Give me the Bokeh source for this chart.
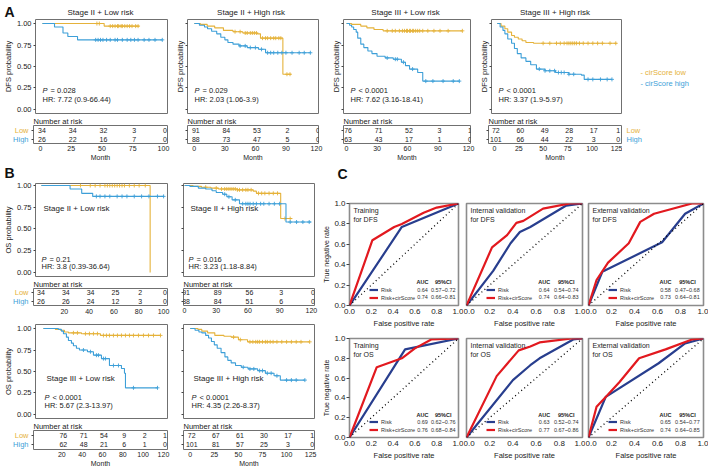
from bokeh.plotting import figure
from bokeh.models import (ColumnDataSource, Range1d, FixedTicker, Label, Legend,
                          LegendItem, NumeralTickFormatter, Slope, CustomJSTickFormatter)
from bokeh.layouts import row, column
from bokeh.core.properties import value
from bokeh.embed import file_html
from bokeh.resources import INLINE

FONT = "Liberation Sans"
LOW_C = "#E5B23A"
HIGH_C = "#3D9FD8"
RISK_C = "#283E8E"
COMB_C = "#E2191F"
FRAME_C = "#707070"

# ---------------- Panel A : DFS Kaplan-Meier ----------------
A_titles = ["Stage II + Low risk", "Stage II + High risk", "Stage III + Low risk", "Stage III + High risk"]
A_pvals = ["= 0.028", "= 0.029", "< 0.0001", "< 0.0001"]
A_hrs = ["HR: 7.72 (0.9-66.44)", "HR: 2.03 (1.06-3.9)", "HR: 7.62 (3.16-18.41)", "HR: 3.37 (1.9-5.97)"]
group_names = ["Low", "High"]
legend_names = ["- cirScore low", "- cirScore high"]

A1_low_time = [0, 51]
A1_low_surv = [1.0, 0.97]
A1_low_end = 80
A1_low_cens = [45, 47, 56, 58, 60, 62, 63, 65, 66, 68, 70, 72, 74, 77, 79]
A1_high_time = [0, 10, 17, 21, 29]
A1_high_surv = [1.0, 0.96, 0.89, 0.85, 0.81]
A1_high_end = 99
A1_high_cens = [44, 46, 48, 50, 53, 56, 60, 62, 66, 70, 73, 76, 79, 84, 88, 93, 99]
A1_risk_time = [0, 25, 50, 75, 100]
A1_risk_low = [34, 34, 32, 3, 0]
A1_risk_high = [26, 22, 16, 7, 0]

A2_low_time = [0, 6, 12.7, 20, 28.6, 38, 47.6, 62, 65, 87]
A2_low_surv = [1.0, 0.99, 0.97, 0.95, 0.92, 0.905, 0.89, 0.88, 0.83, 0.41]
A2_low_end = 95
A2_low_cens = [40, 45, 50, 52, 55, 57, 59, 61, 67, 70, 72, 75, 78, 80, 83, 85, 91, 94]
A2_high_time = [0, 5, 10, 13, 17, 22, 26, 30, 33, 38, 44, 52, 63, 70]
A2_high_surv = [1.0, 0.98, 0.96, 0.94, 0.91, 0.88, 0.84, 0.81, 0.78, 0.76, 0.74, 0.72, 0.70, 0.66]
A2_high_end = 114
A2_high_cens = [45, 50, 55, 60, 66, 72, 75, 78, 82, 86, 90, 96, 103, 108, 114]
A2_risk_time = [0, 30, 60, 90, 120]
A2_risk_low = [91, 84, 53, 2, 0]
A2_risk_high = [88, 73, 47, 5, 0]

A3_low_time = [0, 5, 14, 20, 27, 36]
A3_low_surv = [1.0, 0.99, 0.97, 0.95, 0.93, 0.915]
A3_low_end = 114
A3_low_cens = [40, 45, 48, 52, 55, 57, 59, 60, 62, 63, 65, 66, 68, 70, 72, 75, 80, 86, 92, 100, 114]
A3_high_time = [0, 3, 5, 7, 9.5, 11, 14, 17, 21, 25, 30, 38, 46, 54, 58, 62, 70, 75]
A3_high_surv = [1.0, 0.98, 0.96, 0.93, 0.90, 0.83, 0.76, 0.72, 0.68, 0.65, 0.62, 0.60, 0.585, 0.55, 0.51, 0.47, 0.43, 0.33]
A3_high_end = 111
A3_high_cens = [40, 48, 50, 56, 65, 78, 85, 95, 105, 111]
A3_risk_time = [0, 30, 60, 90, 120]
A3_risk_low = [76, 71, 52, 3, 1]
A3_risk_high = [63, 43, 17, 1, 0]

A4_low_time = [0, 4, 8, 11, 15, 18, 22, 26, 30, 38]
A4_low_surv = [1.0, 0.97, 0.94, 0.90, 0.86, 0.84, 0.82, 0.80, 0.78, 0.77]
A4_low_end = 125
A4_low_cens = [48, 55, 62, 66, 70, 73, 75, 77, 79, 81, 83, 86, 90, 95, 100, 105, 110, 118, 124]
A4_high_time = [0, 3, 6, 8, 11, 15, 18, 21, 25, 30, 35, 41, 50, 61, 75, 88, 91]
A4_high_surv = [1.0, 0.96, 0.92, 0.88, 0.82, 0.77, 0.71, 0.65, 0.60, 0.56, 0.52, 0.47, 0.45, 0.43, 0.41, 0.40, 0.35]
A4_high_end = 120
A4_high_cens = [44, 50, 55, 60, 64, 67, 70, 75, 80, 95, 100, 108, 115, 120]
A4_risk_time = [0, 25, 50, 75, 100, 125]
A4_risk_low = [72, 60, 49, 28, 17, 1]
A4_risk_high = [101, 66, 44, 22, 3, 0]

# ---------------- Panel B : OS Kaplan-Meier ----------------
B_titles = ["Stage II + Low risk", "Stage II + High risk", "Stage III + Low risk", "Stage III + High risk"]
B_pvals = ["= 0.21", "= 0.016", "< 0.0001", "< 0.0001"]
B_hrs = ["HR: 3.8 (0.39-36.64)", "HR: 3.23 (1.18-8.84)", "HR: 5.67 (2.3-13.97)", "HR: 4.35 (2.26-8.37)"]

B1_low_time = [0, 89]
B1_low_surv = [1.0, 0.0]
B1_low_end = 89
B1_low_cens = [32, 40, 44, 48, 52, 54, 56, 58, 60, 62, 64, 66, 68, 72, 76, 80, 85]
B1_high_time = [0, 23.5, 33, 42]
B1_high_surv = [1.0, 0.96, 0.91, 0.875]
B1_high_end = 100
B1_high_cens = [45, 48, 52, 56, 62, 66, 70, 76, 82, 88, 95, 100]
B1_risk_time = [0, 20, 40, 60, 80, 100]
B1_risk_low = [34, 34, 34, 25, 2, 0]
B1_risk_high = [26, 26, 24, 12, 3, 0]

B2_low_time = [0, 8, 16, 25, 32, 50, 65, 68, 91]
B2_low_surv = [1.0, 0.99, 0.98, 0.97, 0.96, 0.95, 0.935, 0.91, 0.62]
B2_low_end = 102
B2_low_cens = [20, 30, 35, 38, 40, 42, 44, 46, 48, 50, 52, 55, 58, 60, 63, 70, 73, 76, 80, 84, 88, 95, 100]
B2_high_time = [0, 5, 13, 20, 26, 30, 36, 40, 45, 52, 96]
B2_high_surv = [1.0, 0.99, 0.97, 0.96, 0.94, 0.92, 0.90, 0.87, 0.835, 0.79, 0.58]
B2_high_end = 120
B2_high_cens = [38, 42, 48, 55, 58, 60, 62, 65, 68, 72, 75, 80, 85, 90, 100, 106, 112, 118]
B2_risk_time = [0, 30, 60, 90, 120]
B2_risk_low = [91, 89, 56, 3, 0]
B2_risk_high = [88, 84, 51, 6, 0]

B3_low_time = [0, 12, 17, 21, 25, 38, 57]
B3_low_surv = [1.0, 0.99, 0.98, 0.96, 0.95, 0.94, 0.92]
B3_low_end = 117
B3_low_cens = [30, 34, 42, 46, 50, 54, 60, 63, 66, 70, 74, 78, 82, 86, 90, 95, 100, 105, 110, 117]
B3_high_time = [0, 15, 18, 20, 23, 25, 28, 30, 33, 36, 44, 50, 58, 66, 78, 81, 82]
B3_high_surv = [1.0, 0.99, 0.97, 0.94, 0.90, 0.86, 0.83, 0.80, 0.77, 0.75, 0.73, 0.69, 0.65, 0.57, 0.535, 0.48, 0.31]
B3_high_end = 114
B3_high_cens = [40, 47, 53, 55, 60, 62, 70, 75, 90, 114]
B3_risk_time = [20, 40, 60, 80, 100, 120]
B3_risk_low = [76, 71, 54, 9, 2, 1]
B3_risk_high = [62, 48, 21, 6, 1, 0]

B4_low_time = [0, 8, 12, 18, 25.5, 35, 42.5, 50, 59.5]
B4_low_surv = [1.0, 0.99, 0.97, 0.95, 0.92, 0.91, 0.90, 0.87, 0.845]
B4_low_end = 124
B4_low_cens = [45, 52, 62, 65, 68, 70, 72, 75, 78, 80, 83, 86, 90, 95, 100, 105, 110, 115, 124]
B4_high_time = [0, 5, 9, 12, 16, 19, 22, 25, 28, 32, 36, 39, 42.5, 47, 53, 60, 70, 78, 87, 93.5]
B4_high_surv = [1.0, 0.98, 0.96, 0.95, 0.92, 0.89, 0.85, 0.81, 0.77, 0.72, 0.67, 0.63, 0.60, 0.57, 0.55, 0.53, 0.51, 0.48, 0.45, 0.40]
B4_high_end = 119
B4_high_cens = [55, 62, 66, 72, 75, 80, 84, 90, 100, 105, 110, 119]
B4_risk_time = [0, 25, 50, 75, 100, 125]
B4_risk_low = [72, 67, 61, 30, 17, 1]
B4_risk_high = [101, 81, 57, 25, 3, 0]

# ---------------- Panel C : ROC ----------------
C_titles = [["Training", "for DFS"], ["Internal validation", "for DFS"], ["External validation", "for DFS"],
            ["Training", "for OS"], ["Internal validation", "for OS"], ["External validation", "for OS"]]
C_auc_risk = ["0.64", "0.64", "0.58", "0.69", "0.63", "0.65"]
C_ci_risk = ["0.57~0.72", "0.54~0.74", "0.47~0.68", "0.62~0.76", "0.52~0.74", "0.54~0.77"]
C_auc_comb = ["0.74", "0.74", "0.73", "0.76", "0.77", "0.74"]
C_ci_comb = ["0.66~0.81", "0.64~0.83", "0.64~0.81", "0.68~0.84", "0.67~0.86", "0.64~0.85"]

C1_risk_fpr = [0, 0.48, 1.0]
C1_risk_tpr = [0, 0.77, 1.0]
C1_comb_fpr = [0, 0.21, 0.41, 0.48, 0.68, 0.80, 1.0]
C1_comb_tpr = [0, 0.64, 0.77, 0.80, 0.91, 0.96, 1.0]
C2_risk_fpr = [0, 0.23, 0.38, 0.46, 0.55, 0.86, 1.0]
C2_risk_tpr = [0, 0.34, 0.61, 0.72, 0.77, 0.98, 1.0]
C2_comb_fpr = [0, 0.22, 0.35, 0.43, 0.49, 0.66, 0.89, 1.0]
C2_comb_tpr = [0, 0.57, 0.69, 0.81, 0.83, 0.95, 1.0, 1.0]
C3_risk_fpr = [0, 0.12, 0.64, 0.84, 1.0]
C3_risk_tpr = [0, 0.33, 0.62, 0.90, 1.0]
C3_comb_fpr = [0, 0.07, 0.17, 0.35, 0.45, 0.57, 0.90, 1.0]
C3_comb_tpr = [0, 0.25, 0.42, 0.61, 0.82, 0.90, 1.0, 1.0]
C4_risk_fpr = [0, 0.51, 1.0]
C4_risk_tpr = [0, 0.89, 1.0]
C4_comb_fpr = [0, 0.25, 0.48, 0.60, 0.75, 1.0]
C4_comb_tpr = [0, 0.71, 0.80, 0.90, 0.99, 1.0]
C5_risk_fpr = [0, 0.40, 0.55, 0.63, 0.92, 1.0]
C5_risk_tpr = [0, 0.58, 0.73, 0.80, 0.99, 1.0]
C5_comb_fpr = [0, 0.26, 0.45, 0.55, 0.63, 0.91, 1.0]
C5_comb_tpr = [0, 0.62, 0.88, 0.92, 0.96, 1.0, 1.0]
C6_risk_fpr = [0, 0.15, 0.61, 0.84, 1.0]
C6_risk_tpr = [0, 0.41, 0.75, 0.95, 1.0]
C6_comb_fpr = [0, 0.07, 0.15, 0.27, 0.44, 0.67, 0.90, 1.0]
C6_comb_tpr = [0, 0.31, 0.41, 0.56, 0.80, 0.89, 0.99, 1.0]

BLANK = CustomJSTickFormatter(code="return ''")


# ---------------- helpers ----------------
def add_label(p, x, y, text, dx=0, dy=0, size="7.5px", color="#222222", align="left",
              baseline="middle", style="normal"):
    p.add_layout(Label(x=x, y=y, x_offset=dx, y_offset=dy, text=text, text_font=FONT,
                       text_font_size=size, text_color=color, text_align=align,
                       text_baseline=baseline, text_font_style=style))


def surv_at(times, surv, t):
    s = surv[0]
    for ti, si in zip(times, surv):
        if ti <= t:
            s = si
    return s


def base_fig(W, H, borders, xr, yr, title=None, axes=True):
    bl, br, bt, bb = borders
    kw = {}
    if not axes:
        kw = dict(x_axis_location=None, y_axis_location=None)
    p = figure(width=W, height=H, x_range=Range1d(*xr), y_range=Range1d(*yr), title=title,
               output_backend="svg", toolbar_location=None,
               min_border_left=bl, min_border_right=br, min_border_top=bt, min_border_bottom=bb, **kw)
    p.xgrid.visible = False
    p.ygrid.visible = False
    p.outline_line_color = FRAME_C
    p.outline_line_width = 1
    p.background_fill_color = "white"
    p.border_fill_color = "white"
    if axes:
        for ax in (p.xaxis[0], p.yaxis[0]):
            ax.axis_line_color = None
            ax.major_tick_in = 0
            ax.major_tick_out = 2
            ax.major_tick_line_color = "#444444"
            ax.minor_tick_line_color = None
            ax.major_label_text_font = FONT
            ax.major_label_text_color = "#222222"
            ax.axis_label_text_font = FONT
            ax.axis_label_text_font_style = "normal"
            ax.axis_label_text_color = "#222222"
    if title is not None:
        p.title.text_font = FONT
        p.title.text_font_style = "normal"
        p.title.text_color = "#222222"
    return p


def text_fig(W, H, borders, yr, xs, ys, texts, colors, sizes, styles, align="left"):
    """A figure without axes whose x axis counts pixels; used for texts beside the panels."""
    p = base_fig(W, H, borders, (0, W), yr, axes=False)
    p.outline_line_color = None
    src = ColumnDataSource(dict(x=xs, y=ys, t=texts, c=colors, s=sizes, f=styles))
    p.text(x="x", y="y", text="t", source=src, text_color="c", text_font_size="s",
           text_font_style="f", text_font=value(FONT), text_align=align, text_baseline="middle")
    return p


def km_fig(W, H, borders, xr, yr, curves, ylabel=None, ytick_labels=False,
           ptxt="", hrtxt="", txt_dx=7, p_dy=23, hr_dy=14, stage=None, stage_dy=-25):
    p = base_fig(W, H, borders, xr, yr)
    p.xaxis.visible = False
    p.yaxis.ticker = FixedTicker(ticks=[0, 0.25, 0.5, 0.75, 1.0])
    if ytick_labels:
        p.yaxis.formatter = NumeralTickFormatter(format="0.00")
        p.yaxis.major_label_text_font_size = "7.5px"
        p.yaxis.major_label_standoff = 2
    else:
        p.yaxis.formatter = BLANK
        p.yaxis.major_label_standoff = 0
    if ylabel:
        p.yaxis.axis_label = ylabel
        p.yaxis.axis_label_text_font_size = "7.5px"
        p.yaxis.axis_label_standoff = 1
    for (t, s, end, cens, color) in curves:
        xs = list(t) + [end]
        ys = list(s) + [s[-1]]
        p.step(xs, ys, mode="after", line_color=color, line_width=1.1)
        cy = [surv_at(t, s, c) for c in cens]
        p.scatter(cens, cy, marker="cross", size=4, line_color=color, line_width=0.9)
    x0, y0, y1 = xr[0], yr[0], yr[1]
    add_label(p, x0, y0, "P", dx=txt_dx, dy=p_dy, style="italic")
    add_label(p, x0, y0, ptxt, dx=txt_dx + 8, dy=p_dy)
    add_label(p, x0, y0, hrtxt, dx=txt_dx, dy=hr_dy)
    if stage:
        add_label(p, x0, y1, stage, dx=txt_dx + 2, dy=stage_dy, size="8px")
    return p


def table_fig(W, H, borders, xr, xticks, times, lows, highs, month=True, hide_zero=False):
    p = base_fig(W, H, borders, xr, (-0.5, 1.5), title="Number at risk")
    p.title.align = "left"
    p.title.text_font_size = "7.5px"
    p.title.standoff = 0
    src = ColumnDataSource(dict(x=list(times) + list(times),
                                y=[1] * len(lows) + [0] * len(highs),
                                t=[str(v) for v in list(lows) + list(highs)]))
    p.text(x="x", y="y", text="t", source=src, text_font=value(FONT), text_font_size=value("7px"),
           text_align="center", text_baseline="middle", text_color="#222222", x_offset=1.5)
    p.yaxis.ticker = FixedTicker(ticks=[0, 1])
    p.yaxis.formatter = BLANK
    p.yaxis.major_label_standoff = 0
    p.xaxis.ticker = FixedTicker(ticks=xticks)
    p.xaxis.major_label_text_font_size = "7px"
    p.xaxis.major_label_standoff = 2
    p.xaxis.major_tick_out = 0
    if hide_zero:
        p.xaxis.major_label_overrides = {0: " "}
    if month:
        p.xaxis.axis_label = "Month"
        p.xaxis.axis_label_text_font_size = "7px"
        p.xaxis.axis_label_standoff = 0
    return p


def side_fig(W, H, bt, bb, x, align):
    return text_fig(W, H, (0, 0, bt, bb), (-0.5, 1.5), [x, x], [1, 0], group_names,
                    [LOW_C, HIGH_C], ["7.5px", "7.5px"], ["normal", "normal"], align=align)


def roc_fig(W, H, borders, rx, ry, cx, cy, auc_r, ci_r, auc_c, ci_c, titles, show_y):
    p = base_fig(W, H, borders, (0, 1), (0, 1))
    p.outline_line_color = "#8c8c8c"
    p.outline_line_width = 1.6
    tk = [0, 0.2, 0.4, 0.6, 0.8, 1.0]
    p.xaxis.ticker = FixedTicker(ticks=tk)
    p.xaxis.formatter = NumeralTickFormatter(format="0.0")
    p.xaxis.major_label_text_font_size = "8px"
    p.xaxis.major_tick_out = 0
    p.xaxis.major_label_standoff = 3
    p.xaxis.axis_label = "False positive rate"
    p.xaxis.axis_label_text_font_size = "7.5px"
    p.xaxis.axis_label_standoff = 2
    if show_y:
        p.yaxis.ticker = FixedTicker(ticks=tk)
        p.yaxis.formatter = NumeralTickFormatter(format="0.0")
        p.yaxis.major_label_text_font_size = "8px"
        p.yaxis.major_tick_out = 3
        p.yaxis.major_label_standoff = 1
        p.yaxis.axis_label = "True negative rate"
        p.yaxis.axis_label_text_font_size = "7px"
        p.yaxis.axis_label_standoff = 1
    else:
        p.yaxis.visible = False
    p.add_layout(Slope(gradient=1, y_intercept=0, line_color="black", line_dash="1 3", line_width=1.3))
    r1 = p.line(rx, ry, line_color=RISK_C, line_width=2.2)
    r2 = p.line(cx, cy, line_color=COMB_C, line_width=2.2)
    leg = Legend(items=[LegendItem(label="Risk", renderers=[r1]),
                        LegendItem(label="Risk+cirScore", renderers=[r2])],
                 location=(20, 4), label_text_font=FONT, label_text_font_size="5.5px",
                 label_text_color="#333333", label_height=7, glyph_height=7, glyph_width=9,
                 label_standoff=3, spacing=1, padding=0, margin=0,
                 border_line_color=None, background_fill_alpha=0)
    p.add_layout(leg)
    src = ColumnDataSource(dict(x=[0.67, 0.67, 0.86, 0.86], y=[0.155, 0.08, 0.155, 0.08],
                                t=[auc_r, auc_c, ci_r, ci_c]))
    p.text(x="x", y="y", text="t", source=src, text_font=value(FONT), text_font_size=value("5.5px"),
           text_align="center", text_baseline="middle", text_color="#333333")
    add_label(p, 0.67, 0.23, "AUC", size="5.5px", align="center", style="bold")
    add_label(p, 0.86, 0.23, "95%CI", size="5.5px", align="center", style="bold")
    add_label(p, 0, 1, titles[0], dx=4, dy=-3, size="7px", baseline="top")
    add_label(p, 0, 1, titles[1], dx=4, dy=-12, size="7px", baseline="top")
    return p


# ---------------- panel A ----------------
YR_A = (-0.047, 1.047)
specs_A = [
    (172, 33, 5, (-5.7, 103.3), [0, 25, 50, 75, 100],
     (A1_low_time, A1_low_surv, A1_low_end, A1_low_cens), (A1_high_time, A1_high_surv, A1_high_end, A1_high_cens),
     A1_risk_time, A1_risk_low, A1_risk_high),
    (156, 11, 10, (-6.7, 122), [0, 30, 60, 90, 120],
     (A2_low_time, A2_low_surv, A2_low_end, A2_low_cens), (A2_high_time, A2_high_surv, A2_high_end, A2_high_cens),
     A2_risk_time, A2_risk_low, A2_risk_high),
    (148, 12, 6, (-3, 122), [0, 30, 60, 90, 120],
     (A3_low_time, A3_low_surv, A3_low_end, A3_low_cens), (A3_high_time, A3_high_surv, A3_high_end, A3_high_cens),
     A3_risk_time, A3_risk_low, A3_risk_high),
    (146, 12, 1, (-6, 130), [0, 25, 50, 75, 100, 125],
     (A4_low_time, A4_low_surv, A4_low_end, A4_low_cens), (A4_high_time, A4_high_surv, A4_high_end, A4_high_cens),
     A4_risk_time, A4_risk_low, A4_risk_high),
]
KA, TA = [], []
centers = []
xpos = 0
for i, (W, bl, br, xr, xt, lo, hi, rt, rl, rh) in enumerate(specs_A):
    k = km_fig(W, 96, (bl, br, 1, 1), xr, YR_A, [(*lo, LOW_C), (*hi, HIGH_C)],
               ylabel="DFS probability", ytick_labels=(i == 0),
               ptxt=A_pvals[i], hrtxt=A_hrs[i], txt_dx=7, p_dy=23, hr_dy=14)
    if i == 0:
        t = table_fig(W - 30, 51, (3, br, 9, 22), xr, xt, rt, rl, rh)
    else:
        t = table_fig(W, 51, (bl, br, 9, 22), xr, xt, rt, rl, rh)
    KA.append(k)
    TA.append(t)
    centers.append(xpos + bl + (W - bl - br) / 2)
    xpos += W

headA = text_fig(708, 18, (0, 0, 0, 0), (18, 0), [4], [11], ["A"], ["#111111"], ["14px"], ["bold"])
src_t = ColumnDataSource(dict(x=centers, y=[12] * 4, t=A_titles))
headA.text(x="x", y="y", text="t", source=src_t, text_font=value(FONT), text_font_size=value("8px"),
           text_align="center", text_baseline="middle", text_color="#222222")

legA4 = text_fig(86, 96, (0, 0, 1, 1), YR_A, [18, 18], [0.43, 0.30], legend_names,
                 [LOW_C, HIGH_C], ["7.5px", "7.5px"], ["normal", "normal"])
sideA1 = side_fig(30, 51, 9, 22, 28, "right")
sideA4 = side_fig(86, 51, 9, 22, 4, "left")

colA1 = column(KA[0], row(sideA1, TA[0]))
colA2 = column(KA[1], TA[1])
colA3 = column(KA[2], TA[2])
colA4 = column(row(KA[3], legA4), row(TA[3], sideA4))

# ---------------- panel B ----------------
YR_B1 = (-0.046, 1.023)
YR_B2 = (-0.047, 1.047)
KB1 = km_fig(172, 95, (33, 5, 1, 1), (-4.8, 103.2), YR_B1,
             [(B1_low_time, B1_low_surv, B1_low_end, B1_low_cens, LOW_C),
              (B1_high_time, B1_high_surv, B1_high_end, B1_high_cens, HIGH_C)],
             ylabel="OS probability", ytick_labels=True, ptxt=B_pvals[0], hrtxt=B_hrs[0],
             txt_dx=6, p_dy=17, hr_dy=10, stage=B_titles[0], stage_dy=-25)
TB1 = table_fig(142, 43, (3, 5, 9, 15), (-4.8, 103.2), [0, 20, 40, 60, 80, 100],
                B1_risk_time, B1_risk_low, B1_risk_high, month=False, hide_zero=True)
sideB1 = side_fig(30, 43, 9, 15, 28, "right")
KB2 = km_fig(148, 95, (11, 6, 1, 1), (-1, 123), YR_B1,
             [(B2_low_time, B2_low_surv, B2_low_end, B2_low_cens, LOW_C),
              (B2_high_time, B2_high_surv, B2_high_end, B2_high_cens, HIGH_C)],
             ptxt=B_pvals[1], hrtxt=B_hrs[1], txt_dx=5, p_dy=17, hr_dy=10,
             stage=B_titles[1], stage_dy=-25)
TB2 = table_fig(148, 43, (11, 6, 9, 15), (-1, 123), [0, 30, 60, 90, 120],
                B2_risk_time, B2_risk_low, B2_risk_high, month=False)
KB3 = km_fig(172, 99, (33, 5, 4, 1), (-7.9, 124), YR_B2,
             [(B3_low_time, B3_low_surv, B3_low_end, B3_low_cens, LOW_C),
              (B3_high_time, B3_high_surv, B3_high_end, B3_high_cens, HIGH_C)],
             ylabel="OS probability", ytick_labels=True, ptxt=B_pvals[2], hrtxt=B_hrs[2],
             txt_dx=9, p_dy=21, hr_dy=13, stage=B_titles[2], stage_dy=-54)
TB3 = table_fig(142, 51, (3, 5, 10, 21), (-7.9, 124), [20, 40, 60, 80, 100, 120],
                B3_risk_time, B3_risk_low, B3_risk_high, month=True)
sideB3 = side_fig(30, 51, 10, 21, 28, "right")
KB4 = km_fig(148, 99, (11, 6, 4, 1), (-7, 129), YR_B2,
             [(B4_low_time, B4_low_surv, B4_low_end, B4_low_cens, LOW_C),
              (B4_high_time, B4_high_surv, B4_high_end, B4_high_cens, HIGH_C)],
             ptxt=B_pvals[3], hrtxt=B_hrs[3], txt_dx=8, p_dy=21, hr_dy=13,
             stage=B_titles[3], stage_dy=-54)
TB4 = table_fig(148, 51, (11, 6, 10, 21), (-7, 129), [0, 25, 50, 75, 100, 125],
                B4_risk_time, B4_risk_low, B4_risk_high, month=True)

headBC = text_fig(708, 17, (0, 0, 0, 0), (17, 0), [4, 337], [7, 8], ["B", "C"],
                  ["#111111", "#111111"], ["14px", "14px"], ["bold", "bold"])

# ---------------- panel C ----------------
roc_data = [
    (C1_risk_fpr, C1_risk_tpr, C1_comb_fpr, C1_comb_tpr),
    (C2_risk_fpr, C2_risk_tpr, C2_comb_fpr, C2_comb_tpr),
    (C3_risk_fpr, C3_risk_tpr, C3_comb_fpr, C3_comb_tpr),
    (C4_risk_fpr, C4_risk_tpr, C4_comb_fpr, C4_comb_tpr),
    (C5_risk_fpr, C5_risk_tpr, C5_comb_fpr, C5_comb_tpr),
    (C6_risk_fpr, C6_risk_tpr, C6_comb_fpr, C6_comb_tpr),
]
roc_sizes = [
    (143, 151, (25, 5, 21, 28), True), (122, 151, (3, 3, 21, 28), False), (123, 151, (3, 5, 21, 28), False),
    (143, 137, (25, 5, 5, 33), True), (122, 137, (3, 3, 5, 33), False), (123, 137, (3, 5, 5, 33), False),
]
CF = []
for i in range(6):
    W, H, b, sy = roc_sizes[i]
    rx, ry, cx, cy = roc_data[i]
    CF.append(roc_fig(W, H, b, rx, ry, cx, cy, C_auc_risk[i], C_ci_risk[i], C_auc_comb[i], C_ci_comb[i],
                      C_titles[i], sy))

# ---------------- layout ----------------
rowA = row(colA1, colA2, colA3, colA4)
b_block = column(row(column(KB1, row(sideB1, TB1)), column(KB2, TB2)),
                 row(column(KB3, row(sideB3, TB3)), column(KB4, TB4)))
c_block = column(row(CF[0], CF[1], CF[2]), row(CF[3], CF[4], CF[5]))
layout = column(headA, rowA, headBC, row(b_block, c_block))

open("out.html", "w").write(file_html(layout, INLINE))
